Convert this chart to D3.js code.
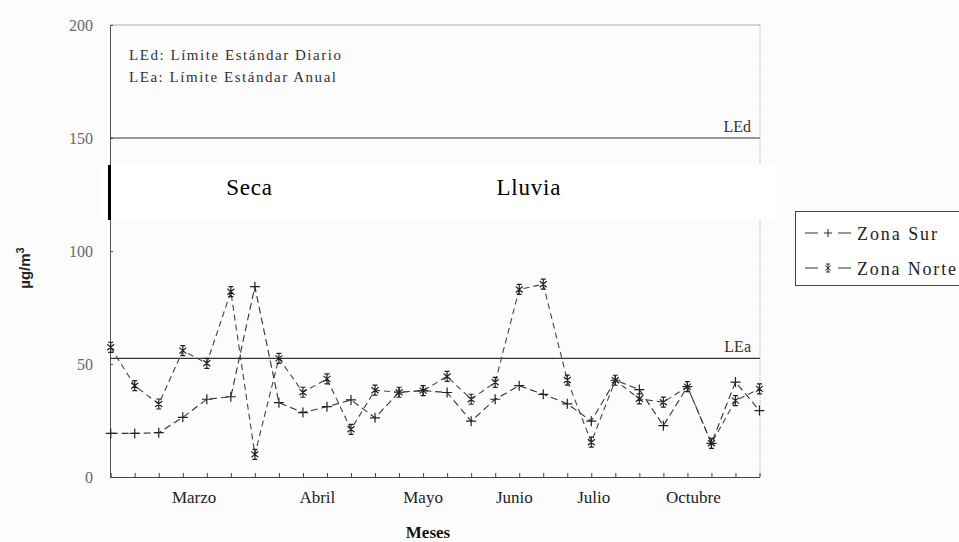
<!DOCTYPE html>
<html>
<head>
<meta charset="utf-8">
<script src="https://cdn.jsdelivr.net/npm/d3@7"></script>
<style>
  body { margin: 0; background: #fcfcfc; }
</style>
</head>
<body>
<svg id="chart" width="959" height="542"></svg>
<script>
// sample index along the x axis (one per measurement)
const samples = d3.range(28);

const zonaSur = [19.3, 19.3, 19.6, 26.4, 34.4, 35.5, 84.2, 32.9, 28.5, 31.1, 34.1, 26.2,
  37.5, 38.2, 37.4, 24.7, 34.4, 40.4, 36.6, 32.4, 24.7, 42.8, 38.7, 22.7, 40.0, 14.9, 42.0, 29.4];
const zonaNorte = [57.4, 40.4, 32.3, 55.9, 50.3, 82.0, 10.0, 52.5, 37.5, 43.4, 21.1, 38.4,
  37.5, 38.2, 44.5, 34.4, 41.9, 83.0, 85.3, 42.9, 15.4, 42.8, 34.6, 33.1, 40.0, 14.9, 33.8, 39.0];

const monthLabels = ["Marzo", "Abril", "Mayo", "Junio", "Julio", "Octubre"];
const monthAt = [3.47, 8.6, 13.0, 16.8, 20.1, 24.25];
const yTicks = [0, 50, 100, 150, 200];
const limits = [{name: "LEd", value: 150}, {name: "LEa", value: 52.5}];
const notes = ["LEd: Límite Estándar Diario", "LEa: Límite Estándar Anual"];
const seasons = [{name: "Seca", at: 5.78}, {name: "Lluvia", at: 17.4}];

const serif = "Liberation Serif, Times New Roman, serif";

let svg = d3.select("#chart");

let x = d3.scaleLinear().domain([0, 27]).range([110.7, 759.5]);
let y = d3.scaleLinear().domain([0, 200]).range([477, 25]);

// frame: light top line + dotted right line
svg.append("line").attr("x1", 110).attr("x2", 760).attr("y1", y(200)).attr("y2", y(200))
  .attr("stroke", "#aaa").attr("stroke-width", 1);
svg.append("line").attr("x1", 760).attr("x2", 760).attr("y1", y(200)).attr("y2", y(0))
  .attr("stroke", "#999").attr("stroke-dasharray", "1,1.5");

// y axis
let yAxis = d3.axisLeft(y).tickValues(yTicks).tickSizeInner(-3).tickSizeOuter(0).tickPadding(17);
let gy = svg.append("g").attr("transform", "translate(110,0)").call(yAxis);
gy.attr("font-family", serif);
gy.select(".domain").attr("stroke", "#555");
gy.selectAll(".tick line").attr("stroke", "#555");
gy.selectAll(".tick text").attr("font-size", 16).attr("fill", "#666");

// x axis with a tick per sample
let xAxis = d3.axisBottom(x).tickValues(samples).tickSizeInner(-4).tickSizeOuter(0).tickFormat("");
let gx = svg.append("g").attr("transform", "translate(0," + y(0) + ")").call(xAxis);
gx.select(".domain").attr("stroke", "#444");
gx.selectAll(".tick line").attr("stroke", "#444");

svg.selectAll(".month").data(monthLabels).enter().append("text")
  .attr("class", "month")
  .attr("x", (d, i) => x(monthAt[i]))
  .attr("y", 503)
  .attr("text-anchor", "middle")
  .attr("font-family", serif)
  .attr("font-size", 17)
  .attr("fill", "#222")
  .text(d => d);

svg.append("text").attr("x", 428).attr("y", 538).attr("text-anchor", "middle")
  .attr("font-family", serif)
  .attr("font-size", 17).attr("font-weight", "bold").attr("fill", "#111").text("Meses");

svg.append("text").attr("transform", "translate(30,268) rotate(-90)")
  .attr("text-anchor", "middle").attr("font-size", 15).attr("font-weight", "bold")
  .attr("font-family", "Liberation Sans, Arial, sans-serif").attr("fill", "#222")
  .html("µg/m<tspan dy='-6' font-size='11'>3</tspan>");

// limit lines
svg.selectAll(".limit").data(limits).enter().append("line")
  .attr("x1", 110).attr("x2", 760)
  .attr("y1", d => y(d.value)).attr("y2", d => y(d.value))
  .attr("stroke", "#333").attr("stroke-width", 1.2);
svg.selectAll(".limitLabel").data(limits).enter().append("text")
  .attr("x", 751).attr("y", d => y(d.value) - 6)
  .attr("text-anchor", "end").attr("font-family", serif).attr("font-size", 16).attr("fill", "#333")
  .text(d => d.name);

svg.selectAll(".note").data(notes).enter().append("text")
  .attr("x", 129).attr("y", (d, i) => 60 + i * 22)
  .attr("font-family", serif).attr("font-size", 15).attr("fill", "#333")
  .attr("textLength", (d, i) => i == 0 ? 212 : 207).attr("lengthAdjust", "spacing")
  .text(d => d);

// pasted white band with season names
svg.append("rect").attr("x", 100).attr("y", 165).attr("width", 675).attr("height", 55).attr("fill", "#fff");
svg.append("rect").attr("x", 108).attr("y", 165).attr("width", 3).attr("height", 55).attr("fill", "#000");
svg.selectAll(".season").data(seasons).enter().append("text")
  .attr("x", d => x(d.at)).attr("y", 195)
  .attr("text-anchor", "middle").attr("font-family", serif).attr("font-size", 23).attr("fill", "#000")
  .attr("letter-spacing", 0.8)
  .text(d => d.name);

// series
const plusPath = "M-5,0H5M0,-5V5";
const starPath = "M0,-5V5M-3.5,-3L3.5,3M-3.5,3L3.5,-3M-2.5,-5H2.5M-2.5,5H2.5";

let line = d3.line().x((d, i) => x(i)).y(d => y(d));

let series = [
  {name: "Zona Sur", values: zonaSur, marker: plusPath, dash: "7,4", color: "#333"},
  {name: "Zona Norte", values: zonaNorte, marker: starPath, dash: "6,4", color: "#444"}
];

series.forEach(function(s){
  svg.append("path").datum(s.values).attr("d", line)
    .attr("fill", "none").attr("stroke", s.color).attr("stroke-width", 1.1)
    .attr("stroke-dasharray", s.dash);
  svg.append("g").selectAll("path").data(s.values).enter().append("path")
    .attr("transform", (d, i) => "translate(" + x(i) + "," + y(d) + ")")
    .attr("d", s.marker).attr("fill", "none").attr("stroke", "#222").attr("stroke-width", 1.2);
});

// legend
let legend = svg.append("g").attr("transform", "translate(795,211)");
legend.append("rect").attr("x", 0.5).attr("y", 0.5).attr("width", 170).attr("height", 74)
  .attr("fill", "#fff").attr("stroke", "#444");
series.forEach(function(s, i){
  let ly = 22 + i * 35;
  legend.append("line").attr("x1", 10).attr("x2", 56).attr("y1", ly).attr("y2", ly)
    .attr("stroke", "#333").attr("stroke-dasharray", "13,20");
  legend.append("path").attr("transform", "translate(33," + ly + ") scale(0.8)")
    .attr("d", s.marker).attr("fill", "none").attr("stroke", "#222").attr("stroke-width", 1.2);
  legend.append("text").attr("x", 62).attr("y", ly + 7)
    .attr("font-family", serif).attr("font-size", 18).attr("fill", "#222")
    .attr("textLength", i == 0 ? 80 : 99).attr("lengthAdjust", "spacing")
    .text(s.name);
});
</script>
</body>
</html>
